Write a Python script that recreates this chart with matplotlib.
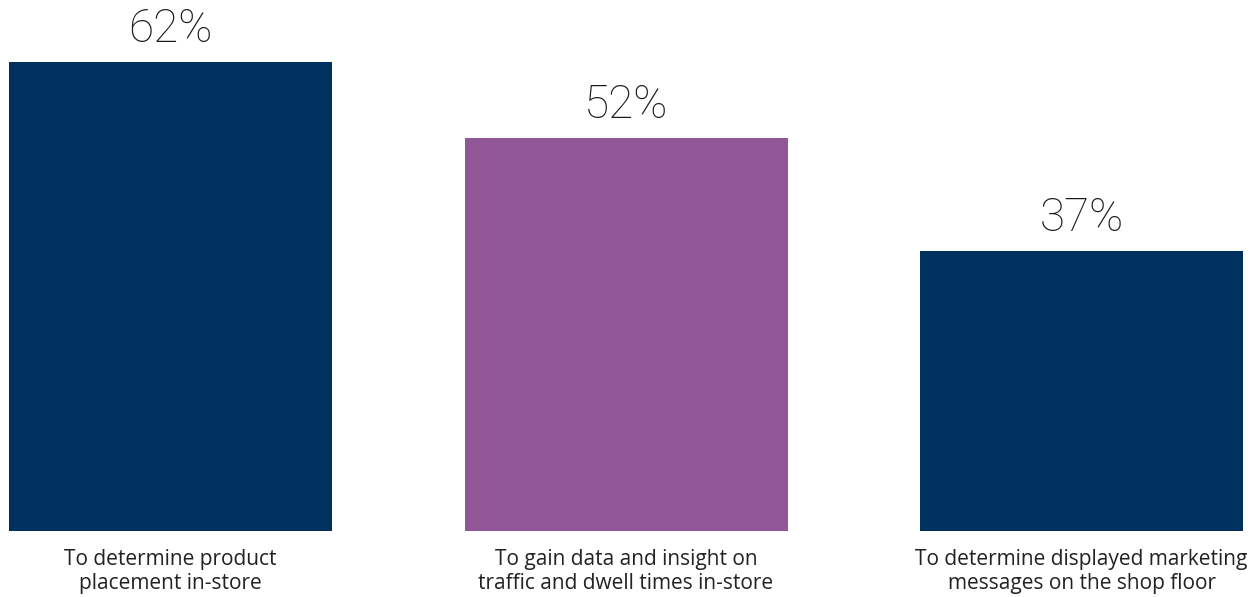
import matplotlib.pyplot as plt

categories = ['To determine product\nplacement in-store',
              'To gain data and insight on\ntraffic and dwell times in-store',
              'To determine displayed marketing\nmessages on the shop floor']
values = [62, 52, 37]
colors = ['#00305E', '#915696', '#00305E']

W, H = 1259, 597
fig = plt.figure(figsize=(W / 100, H / 100), dpi=100)
ax = fig.add_axes([0, (H - 531) / H, 1, 531 / H])

x = list(range(len(values)))
ax.bar(x, values, width=323 / 455.5, color=colors)
ax.set_xlim(-170.5 / 455.5, (W - 170.5) / 455.5)
ax.set_ylim(0, 531 / 7.565)

for xi, v in zip(x, values):
    ax.annotate(f'{v}%', (xi, v), xytext=(0, 8), textcoords='offset points',
                ha='center', va='bottom', fontsize=33, color='#1a1a1a',
                family='Roboto', fontweight='light')

for xi, lab in zip(x, categories):
    ax.annotate(lab, (xi, 0), xytext=(0, -13), textcoords='offset points',
                ha='center', va='top', fontsize=15, color='#222222',
                family='Open Sans', linespacing=1.2)

ax.axis('off')
fig.savefig('out.png', dpi=100)
